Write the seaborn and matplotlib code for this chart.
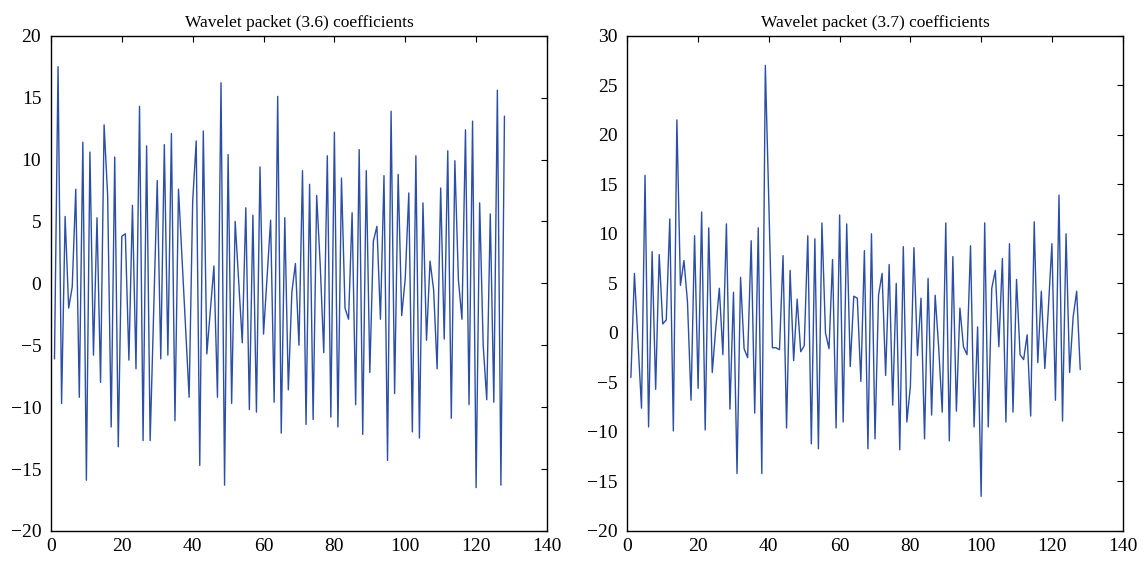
import matplotlib
matplotlib.use("Agg")
import matplotlib.pyplot as plt
import numpy as np
import pandas as pd
import seaborn as sns

# Coefficients (index 1..128)
coef_36 = [
    -6.1, 17.5, -9.7, 5.4, -2.0, -0.3, 7.6, -9.2, 11.4, -15.9,
    10.6, -5.8, 5.3, -8.0, 12.8, 7.1, -11.6, 10.2, -13.2, 3.8,
    4.0, -6.2, 6.3, -6.9, 14.3, -12.7, 11.1, -12.7, -2.3, 8.3,
    -6.1, 11.2, -5.8, 12.1, -11.1, 7.6, 2.0, -3.6, -9.2, 6.6,
    11.5, -14.7, 12.3, -5.7, -2.2, 1.4, -9.2, 16.2, -16.3, 10.4,
    -9.7, 5.0, 0.1, -4.8, 6.1, -10.2, 5.5, -10.4, 9.4, -4.1,
    0.5, 5.1, -9.6, 15.1, -12.1, 5.3, -8.6, -0.7, 1.6, -5.0,
    9.1, -11.4, 8.0, -11.0, 7.1, 1.5, -5.6, 10.3, -10.8, 12.2,
    -11.6, 8.5, -2.0, -2.9, 5.7, -9.8, 10.8, -12.2, 9.1, -7.2,
    3.4, 4.6, -2.9, 8.7, -14.3, 13.9, -8.9, 8.8, -2.6, 0.4,
    7.3, -12.0, 10.3, -12.5, 6.5, -4.6, 1.8, -0.5, -6.9, 7.7,
    -4.5, 10.7, -10.9, 9.9, 0.3, -2.9, 12.4, -9.8, 13.1, -16.5,
    6.5, -5.0, -9.4, 5.6, -9.6, 15.6, -16.3, 13.5,
]

coef_37 = [
    -4.5, 6.0, -0.8, -7.6, 15.9, -9.5, 8.2, -5.7, 7.9, 0.9,
    1.3, 11.5, -9.9, 21.5, 4.8, 7.3, 3.1, -6.8, 9.8, -5.6,
    12.2, -9.8, 10.6, -4.0, 0.5, 4.5, -2.2, 11.0, -7.7, 4.1,
    -14.2, 5.6, -1.6, -2.5, 9.3, -8.1, 10.6, -14.2, 27.0, 13.0,
    -1.5, -1.5, -1.7, 7.8, -9.6, 6.3, -2.8, 3.4, -1.9, -1.3,
    9.8, -11.2, 9.5, -11.7, 11.1, 0.0, -1.6, 7.4, -9.6, 11.9,
    -9.0, 11.0, -3.4, 3.7, 3.5, -4.9, 8.3, -11.7, 10.0, -10.7,
    3.8, 6.0, -4.3, 6.9, -7.3, 5.0, -11.8, 8.7, -9.0, -5.4,
    8.6, -2.3, 3.5, -10.7, 5.5, -8.3, 3.8, -1.5, -8.0, 11.1,
    -10.9, 7.7, -7.9, 2.5, -1.4, -2.2, 8.8, -9.5, 0.6, -16.5,
    11.1, -9.5, 4.5, 6.3, -1.4, 7.5, -9.0, 9.0, -8.0, 5.4,
    -2.2, -2.7, -0.2, -8.4, 11.2, -3.0, 4.2, -3.6, 2.5, 9.0,
    -6.8, 13.9, -8.9, 10.0, -4.0, 1.6, 4.2, -3.7,
]

titles = ["Wavelet packet (3.6) coefficients", "Wavelet packet (3.7) coefficients"]
ylims = [(-20, 20), (-20, 30)]
xticks = [0, 20, 40, 60, 80, 100, 120, 140]

sns.set_style("white")
plt.rcParams["font.family"] = ["Liberation Serif", "DejaVu Serif"]
plt.rcParams["text.color"] = "black"
plt.rcParams["xtick.color"] = "black"
plt.rcParams["ytick.color"] = "black"
plt.rcParams["xtick.direction"] = "in"
plt.rcParams["ytick.direction"] = "in"
plt.rcParams["xtick.top"] = True
plt.rcParams["ytick.right"] = True

fig = plt.figure(figsize=(11.45, 5.61), dpi=100)
ax1 = fig.add_axes([0.0445, 0.0535, 0.4332, 0.8829])
ax2 = fig.add_axes([0.5479, 0.0535, 0.4326, 0.8829])

for ax, vals, title, ylim in zip([ax1, ax2], [coef_36, coef_37], titles, ylims):
    df = pd.DataFrame({"n": np.arange(1, len(vals) + 1), "c": vals})
    sns.lineplot(data=df, x="n", y="c", ax=ax, color="#2b4ea6", linewidth=1.0)
    ax.set_xlim(0, 140)
    ax.set_ylim(*ylim)
    ax.set_xticks(xticks)
    ax.set_yticks(np.arange(ylim[0], ylim[1] + 1, 5))
    ax.set_xlabel("")
    ax.set_ylabel("")
    ax.set_title(title, fontsize=12.5, pad=6, color="black")
    ax.tick_params(labelsize=14, length=4, width=0.8, color="black", labelcolor="black")
    ax.tick_params(axis="y", pad=7)
    ax.tick_params(axis="x", pad=5)
    for s in ax.spines.values():
        s.set_visible(True)
        s.set_color("black")
        s.set_linewidth(1.0)

fig.savefig("out.png", dpi=100)
